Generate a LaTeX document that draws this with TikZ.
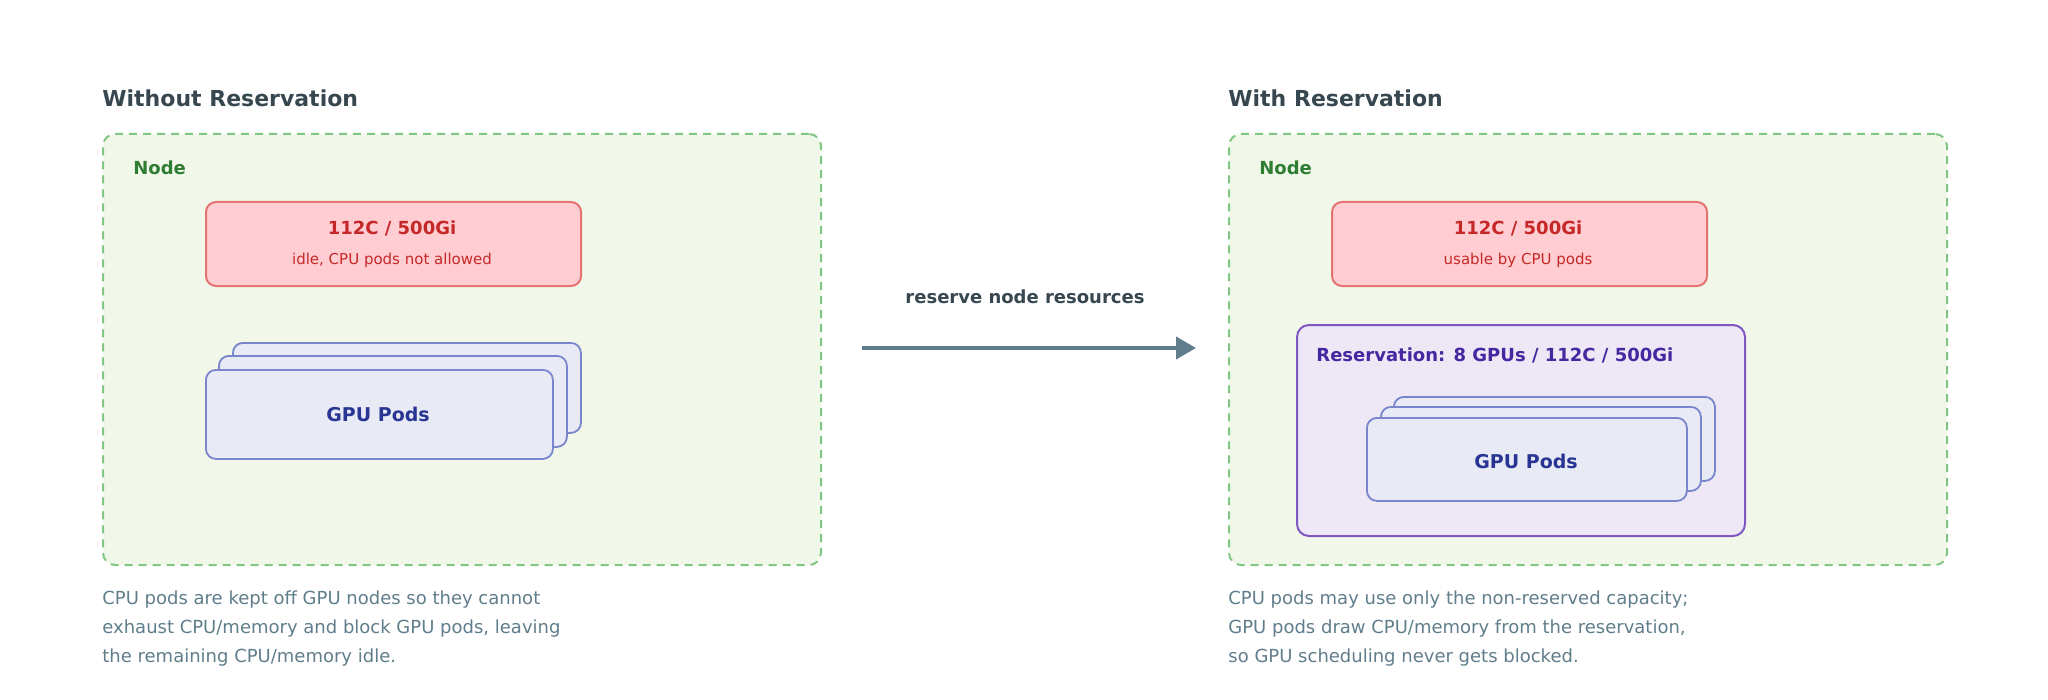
\documentclass[tikz,border=0pt]{standalone}
\usepackage{fontspec}
\setmainfont{DejaVu Sans}
\usetikzlibrary{arrows.meta}
\definecolor{ngreen}{HTML}{81C784}\definecolor{nfill}{HTML}{F1F8E9}\definecolor{ntext}{HTML}{2E7D32}
\definecolor{rfill}{HTML}{FFCDD2}\definecolor{rline}{HTML}{E57373}\definecolor{rtext}{HTML}{C62828}
\definecolor{gfill}{HTML}{E8EAF6}\definecolor{gline}{HTML}{7986CB}\definecolor{gtext}{HTML}{283593}
\definecolor{pfill}{HTML}{EDE7F6}\definecolor{pline}{HTML}{7E57C2}\definecolor{ptext}{HTML}{4527A0}
\definecolor{title}{HTML}{37474F}\definecolor{capcol}{HTML}{607D8B}
\tikzset{
 px/.style={x=0.5pt,y=-0.5pt},
 nodebox/.style={draw=ngreen,fill=nfill,dashed,dash pattern=on 4pt off 3pt,line width=1pt,rounded corners=6pt,anchor=north west,inner sep=0},
 redbox/.style={draw=rline,fill=rfill,line width=1pt,rounded corners=5pt,anchor=north west,inner sep=0},
 gpubox/.style={draw=gline,fill=gfill,line width=0.9pt,rounded corners=5pt,anchor=north west,inner sep=0},
 resbox/.style={draw=pline,fill=pfill,line width=1pt,rounded corners=6pt,anchor=north west,inner sep=0},
 ttl/.style={anchor=west,text=title,font=\bfseries\fontsize{11}{13}\selectfont,inner sep=0},
 nlab/.style={anchor=west,text=ntext,font=\bfseries\fontsize{9}{11}\selectfont,inner sep=0},
 rbig/.style={text=rtext,font=\bfseries\fontsize{9}{11}\selectfont,inner sep=0},
 rsmall/.style={text=rtext,font=\fontsize{7.5}{9}\selectfont,inner sep=0},
 glab/.style={text=gtext,font=\bfseries\fontsize{9.5}{11}\selectfont,inner sep=0},
 caption/.style={anchor=north west,text=capcol,font=\fontsize{9}{14.5}\selectfont,align=left,inner sep=0},
 arrowline/.style={draw=capcol,line width=2pt,-{Triangle[length=10pt,width=11pt]}},
}
\begin{document}
\begin{tikzpicture}[px]
\useasboundingbox (0,0) rectangle (2048,700);
% left
\node[ttl] (t1) at (102,98) {Without Reservation};
\node[nodebox,minimum width=359pt,minimum height=215.5pt] (n1) at (102,133) {};
\node[nlab] (nl1) at (133,168) {Node};
\node[redbox,minimum width=187.5pt,minimum height=42pt] (r1) at (205,201) {};
\node[rbig] (r1a) at (392,228) {112C / 500Gi};
\node[rsmall] (r1b) at (392,260) {idle, CPU pods not allowed};
\node[gpubox,minimum width=174pt,minimum height=45pt] (g1c) at (232,342) {};
\node[gpubox,minimum width=174pt,minimum height=45.5pt] (g1b) at (218,355) {};
\node[gpubox,minimum width=173.5pt,minimum height=44.5pt] (g1a) at (205,369) {};
\node[glab] (g1t) at (378,414) {GPU Pods};
\node[caption] (c1) at (102,590) {CPU pods are kept off GPU nodes so they cannot\\exhaust CPU/memory and block GPU pods, leaving\\the remaining CPU/memory idle.};
% arrow
\coordinate (a1) at (862,348);
\coordinate (a2) at (1196,348);
\draw[arrowline] (a1) -- (a2);
\node[text=title,font=\bfseries\fontsize{9}{11}\selectfont,inner sep=0] (al) at (1025,297) {reserve node resources};
% right
\node[ttl] (t2) at (1228,98) {With Reservation};
\node[nodebox,minimum width=359pt,minimum height=215.5pt] (n2) at (1228,133) {};
\node[nlab] (nl2) at (1259,168) {Node};
\node[redbox,minimum width=187.5pt,minimum height=42pt] (r2) at (1331,201) {};
\node[rbig] (r2a) at (1518,228) {112C / 500Gi};
\node[rsmall] (r2b) at (1518,260) {usable by CPU pods};
\node[resbox,minimum width=224pt,minimum height=105.5pt] (res) at (1296,324) {};
\node[anchor=west,text=ptext,font=\bfseries\fontsize{9}{11}\selectfont,inner sep=0] (rl) at (1316,355) {Reservation: 8 GPUs / 112C / 500Gi};
\node[gpubox,minimum width=160.5pt,minimum height=42pt] (g2c) at (1393,396) {};
\node[gpubox,minimum width=160pt,minimum height=42pt] (g2b) at (1380,406) {};
\node[gpubox,minimum width=160pt,minimum height=41.5pt] (g2a) at (1366,417) {};
\node[glab] (g2t) at (1526,461) {GPU Pods};
\node[caption] (c2) at (1228,590) {CPU pods may use only the non-reserved capacity;\\GPU pods draw CPU/memory from the reservation,\\so GPU scheduling never gets blocked.};
\end{tikzpicture}
\end{document}
